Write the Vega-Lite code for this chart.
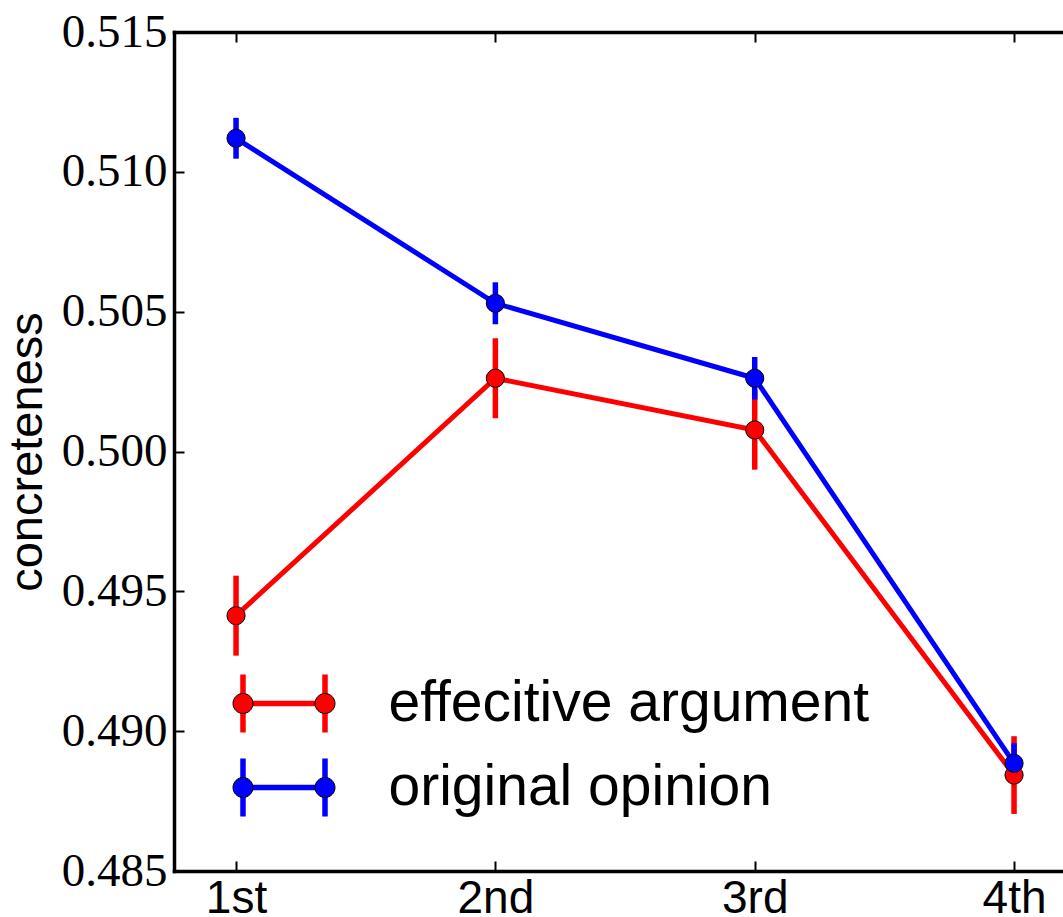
{
  "$schema": "https://vega.github.io/schema/vega-lite/v6.json",
  "background": "white",
  "autosize": {"type": "none"},
  "padding": {"left": 174, "top": 32, "right": 0, "bottom": 46},
  "width": 889,
  "height": 839,
  "data": {
    "values": [
      {"position": "1st", "series": "effecitive argument", "mean": 0.49413, "err": 0.00143},
      {"position": "2nd", "series": "effecitive argument", "mean": 0.50262, "err": 0.00143},
      {"position": "3rd", "series": "effecitive argument", "mean": 0.50077, "err": 0.00142},
      {"position": "4th", "series": "effecitive argument", "mean": 0.48843, "err": 0.00139},
      {"position": "1st", "series": "original opinion", "mean": 0.51120, "err": 0.00073},
      {"position": "2nd", "series": "original opinion", "mean": 0.50530, "err": 0.00075},
      {"position": "3rd", "series": "original opinion", "mean": 0.50262, "err": 0.00076},
      {"position": "4th", "series": "original opinion", "mean": 0.48885, "err": 0.00072}
    ]
  },
  "config": {
    "view": {"stroke": null},
    "axis": {
      "grid": false,
      "domainColor": "black",
      "domainWidth": 3.5,
      "domainCap": "square",
      "tickColor": "black",
      "tickWidth": 2,
      "tickSize": -10,
      "labelColor": "black",
      "titleColor": "black"
    }
  },
  "resolve": {"axis": {"x": "independent"}},
  "layer": [
    {
      "mark": {"type": "errorbar", "thickness": 5.5},
      "encoding": {
        "x": {
          "field": "position", "type": "ordinal", "sort": ["1st", "2nd", "3rd", "4th"],
          "scale": {"type": "point", "padding": 0.214, "align": 0.559},
          "axis": {
            "orient": "bottom", "title": null, "labelAngle": 0,
            "labelFont": "Liberation Sans", "labelFontSize": 46,
            "labelPadding": 15, "labelBaseline": "top"
          }
        },
        "y": {
          "field": "mean", "type": "quantitative",
          "scale": {"domain": [0.485, 0.515], "zero": false, "nice": false},
          "axis": {
            "title": "concreteness",
            "titleFont": "Liberation Sans", "titleFontSize": 47, "titleFontWeight": "normal",
            "titlePadding": 10,
            "values": [0.485, 0.49, 0.495, 0.5, 0.505, 0.51, 0.515],
            "format": ".3f",
            "labelFont": "Liberation Serif", "labelFontSize": 47,
            "labelPadding": 17, "labelFlush": false, "labelOverlap": false
          }
        },
        "yError": {"field": "err"},
        "color": {
          "field": "series", "type": "nominal",
          "scale": {"domain": ["effecitive argument", "original opinion"], "range": ["#ff0000", "#0000ff"]},
          "legend": {
            "orient": "none", "legendX": 56, "legendY": 643, "title": null, "padding": 0,
            "symbolType": "M-1.608,0L1.608,0M-1.608,-1.137L-1.608,1.137M1.608,-1.137L1.608,1.137",
            "symbolSize": 2601, "symbolStrokeWidth": 5.5, "symbolFillColor": "transparent",
            "symbolOffset": 25.5, "labelOffset": 76, "rowPadding": 3,
            "labelFont": "Liberation Sans", "labelFontSize": 57, "labelExpr": "''", "labelLimit": 0
          }
        }
      }
    },
    {
      "mark": {"type": "line", "strokeWidth": 5},
      "encoding": {
        "x": {
          "field": "position", "type": "ordinal", "sort": ["1st", "2nd", "3rd", "4th"],
          "axis": {"orient": "top", "labels": false, "title": null}
        },
        "y": {"field": "mean", "type": "quantitative"},
        "color": {"field": "series", "type": "nominal"}
      }
    },
    {
      "mark": {"type": "point", "filled": true, "size": 330, "stroke": "black", "strokeWidth": 1, "opacity": 1},
      "encoding": {
        "x": {"field": "position", "type": "ordinal", "sort": ["1st", "2nd", "3rd", "4th"], "axis": null},
        "y": {"field": "mean", "type": "quantitative"},
        "fill": {
          "field": "series", "type": "nominal",
          "scale": {"range": ["#ff0000", "#0000ff"]},
          "legend": {
            "orient": "none", "legendX": 56, "legendY": 643, "title": null, "padding": 0,
            "symbolType": "M-1.216,0A0.392,0.392,0,1,0,-2,0A0.392,0.392,0,1,0,-1.216,0ZM2,0A0.392,0.392,0,1,0,1.216,0A0.392,0.392,0,1,0,2,0Z",
            "symbolSize": 2601, "symbolStrokeColor": "black", "symbolStrokeWidth": 1,
            "symbolOffset": 25.5, "labelOffset": 76, "rowPadding": 26,
            "labelFont": "Liberation Sans", "labelFontSize": 57, "labelColor": "black", "labelLimit": 0
          }
        }
      }
    }
  ]
}
